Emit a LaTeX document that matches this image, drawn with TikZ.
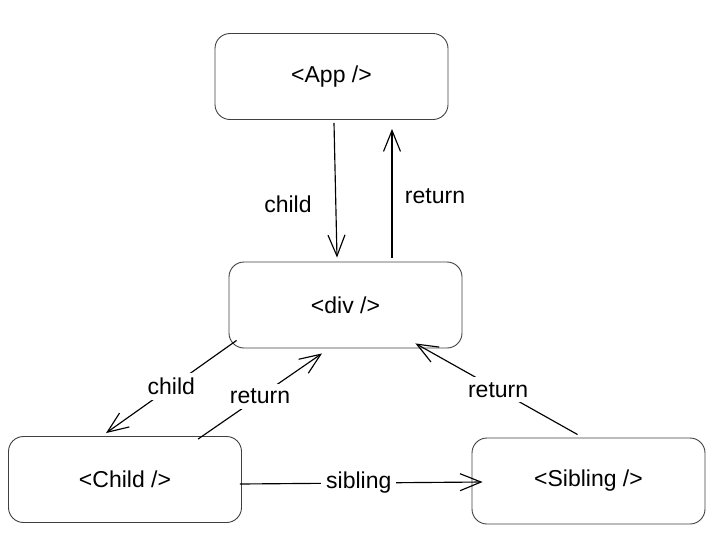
\documentclass[tikz,border=0pt]{standalone}
\usepackage{fontspec}
\setmainfont{Liberation Sans}
\usetikzlibrary{arrows.meta}
\begin{document}
\begin{tikzpicture}[x=1pt,y=-1pt,
  box/.style={draw=black!75, line width=0.9pt, rounded corners=15pt, minimum width=233pt, minimum height=86pt, inner sep=0pt, font=\fontsize{23}{27}\selectfont},
  conn/.style={line width=1.15pt, -{Straight Barb[length=21pt,width=17pt,line width=1.15pt]}},
  lbl/.style={font=\fontsize{23}{27}\selectfont, inner sep=3pt},
  onl/.style={lbl, fill=white, inner sep=5pt}]
\useasboundingbox (0,0) rectangle (728,541);
\node[box] (app) at (331.5,76.5) {<App />};
\node[box] (div) at (345.5,305) {<div />};
\node[box] (child) at (125,479.5) {<Child />};
\node[box] (sib) at (588.5,481) {<Sibling />};
% App -> div (child)
\draw[conn] ([xshift=2.5pt,yshift=-3pt]app.south) -- ([xshift=-8.5pt,yshift=4pt]div.north);
\node[lbl] (l1) at (288,204) {child};
% div -> App (return)
\draw[conn] ([xshift=46.5pt,yshift=4pt]div.north) -- ([xshift=60.5pt,yshift=-9pt]app.south);
\node[lbl] (l2) at (435,196) {return};
% div -> Child (child)
\draw[conn] ([xshift=8pt,yshift=8pt]div.south west) -- ([xshift=98pt,yshift=3pt]child.north west)
  node[onl, pos=0.5] (l3) {child};
% Child -> div (return)
\draw[conn] ([xshift=190pt,yshift=-3pt]child.north west) -- ([xshift=-23.5pt,yshift=-5pt]div.south)
  node[onl, pos=0.5] (l4) {return};
% Sibling -> div (return)
\draw[conn] ([xshift=106pt,yshift=3pt]sib.north west) -- ([xshift=-47pt,yshift=5pt]div.south east)
  node[onl, pos=0.49] (l5) {return};
% Child -> Sibling (sibling)
\draw[conn] ([xshift=-2pt,yshift=-4.5pt]child.east) -- ([xshift=11pt,yshift=-1pt]sib.west)
  node[onl, pos=0.49, inner ysep=3pt] (l6) {sibling};
\end{tikzpicture}
\end{document}
